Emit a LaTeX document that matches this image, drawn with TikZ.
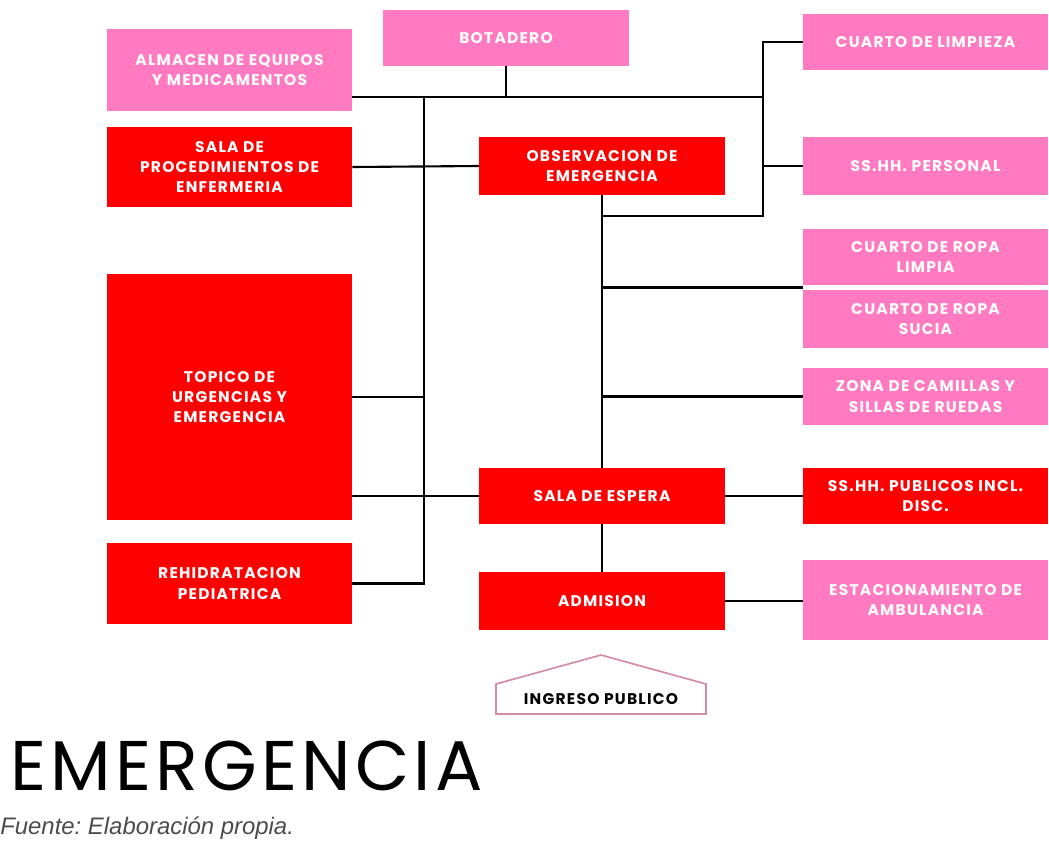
\documentclass[tikz,border=0pt]{standalone}
\usepackage{fontspec}
\setmainfont{Liberation Sans}
\setsansfont{Poppins}
\usetikzlibrary{calc}
\definecolor{rosa}{RGB}{255,122,192}
\definecolor{rojo}{RGB}{255,0,0}
\definecolor{malva}{RGB}{212,140,165}

\begin{document}
\begin{tikzpicture}[x=0.025cm,y=-0.025cm,
    caja/.style={minimum width=6.125cm, align=center, text=white, inner sep=2pt,
      font=\sffamily\bfseries\fontsize{11}{14.5}\selectfont\addfontfeatures{LetterSpace=8}},
    cajaroja/.style={caja, fill=rojo},
    cajarosa/.style={caja, fill=rosa},
    linea/.style={line width=1.5pt}]
    \useasboundingbox (0,0) rectangle (1049,841);

    % columna izquierda
    \node [cajarosa, minimum height=2.05cm] (almacen) at (229.5,70) {ALMACEN DE EQUIPOS\\Y MEDICAMENTOS};
    \node [cajaroja, minimum height=2cm] (procedimientos) at (229.5,167) {SALA DE\\PROCEDIMIENTOS DE\\ENFERMERIA};
    \node [cajaroja, minimum height=6.15cm] (topico) at (229.5,397) {TOPICO DE\\URGENCIAS Y\\EMERGENCIA};
    \node [cajaroja, minimum height=2.025cm] (rehidratacion) at (229.5,583.5) {REHIDRATACION\\PEDIATRICA};

    % columna central
    \node [cajarosa, minimum height=1.4cm] (botadero) at (506,38) {BOTADERO};
    \node [cajaroja, minimum height=1.45cm] (observacion) at (602,166) {OBSERVACION DE\\EMERGENCIA};
    \node [cajaroja, minimum height=1.4cm] (espera) at (602,496) {SALA DE ESPERA};
    \node [cajaroja, minimum height=1.45cm] (admision) at (602,601) {ADMISION};

    % columna derecha
    \node [cajarosa, minimum height=1.4cm] (limpieza) at (925.5,42) {CUARTO DE LIMPIEZA};
    \node [cajarosa, minimum height=1.45cm] (personal) at (925.5,166) {SS.HH. PERSONAL};
    \node [cajarosa, minimum height=1.4cm] (ropalimpia) at (925.5,257) {CUARTO DE ROPA\\LIMPIA};
    \node [cajarosa, minimum height=1.45cm] (ropasucia) at (925.5,319) {CUARTO DE ROPA\\SUCIA};
    \node [cajarosa, minimum height=1.425cm] (camillas) at (925.5,396.5) {ZONA DE CAMILLAS Y\\SILLAS DE RUEDAS};
    \node [cajaroja, minimum height=1.4cm] (publicos) at (925.5,496) {SS.HH. PUBLICOS INCL.\\DISC.};
    \node [cajarosa, minimum height=2cm] (ambulancia) at (925.5,600) {ESTACIONAMIENTO DE\\AMBULANCIA};

    % ingreso
    \draw [malva, line width=1.2pt] (496,714) -- (496,684) -- (601,655) -- (706,684) -- (706,714) -- cycle;
    \node [font=\sffamily\bfseries\fontsize{11}{13}\selectfont\addfontfeatures{LetterSpace=8}] (ingreso) at (601,699) {INGRESO PUBLICO};

    % puntos de union
    \coordinate (bus) at (424,97);
    \coordinate (busder) at (763,97);
    \coordinate (codo) at (763,216);
    \coordinate (ropa) at ($(ropalimpia.south west)!0.5!(ropasucia.north west)$);

    % conexiones
    \draw [linea] (almacen.east |- bus) -- (busder);
    \draw [linea] (botadero.south) -- (botadero.south |- bus);
    \draw [linea] (bus) -- (bus |- rehidratacion.east) -- (rehidratacion.east);
    \draw [linea] (procedimientos.east) -- (observacion.west);
    \draw [linea] (topico.east) -- (bus |- topico.east);
    \draw [linea] (topico.east |- espera.west) -- (espera.west);
    \draw [linea] (limpieza.west) -- (limpieza.west -| codo) -- (codo) -- (observacion.south |- codo);
    \draw [linea] (personal.west) -- (personal.west -| codo);
    \draw [linea] (observacion.south) -- (espera.north);
    \draw [linea] (ropa -| observacion.south) -- (ropa);
    \draw [linea] (camillas.west) -- (camillas.west -| observacion.south);
    \draw [linea] (espera.east) -- (publicos.west);
    \draw [linea] (espera.south) -- (admision.north);
    \draw [linea] (admision.east) -- (admision.east -| ambulancia.west);

    % titulo
    \node [anchor=base west, inner sep=0pt, font=\sffamily\fontsize{50}{55}\selectfont\addfontfeatures{LetterSpace=6}] (titulo) at (10,790) {EMERGENCIA};
    \node [anchor=base west, inner sep=0pt, text=black!70, font=\itshape\frenchspacing\fontsize{17}{19}\selectfont] (fuente) at (0,834) {Fuente: Elaboración propia.};
\end{tikzpicture}
\end{document}
